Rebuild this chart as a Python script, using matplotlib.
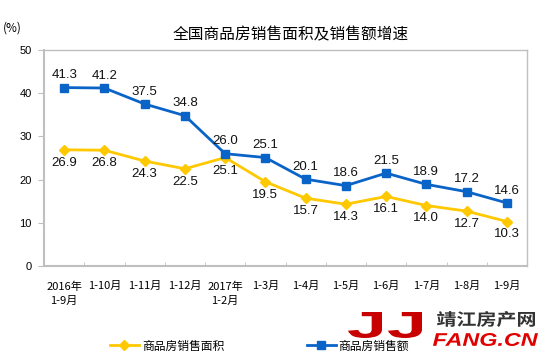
import matplotlib
matplotlib.use("Agg")
import matplotlib.pyplot as plt
from matplotlib.textpath import TextPath
from matplotlib.patches import PathPatch
from matplotlib.font_manager import FontProperties
from matplotlib.transforms import Affine2D
import numpy as np

plt.rcParams['font.family'] = ['Liberation Sans', 'Noto Sans CJK SC', 'DejaVu Sans']

categories = ["2016年\n1-9月", "1-10月", "1-11月", "1-12月", "2017年\n1-2月", "1-3月",
              "1-4月", "1-5月", "1-6月", "1-7月", "1-8月", "1-9月"]
area = [26.9, 26.8, 24.3, 22.5, 25.1, 19.5, 15.7, 14.3, 16.1, 14.0, 12.7, 10.3]
sales = [41.3, 41.2, 37.5, 34.8, 26.0, 25.1, 20.1, 18.6, 21.5, 18.9, 17.2, 14.6]
yticks = [0, 10, 20, 30, 40, 50]
title = "全国商品房销售面积及销售额增速"
legend_labels = ["商品房销售面积", "商品房销售额"]

yellow = "#FFC800"
blue = "#0A64C8"
gray = "#BFBFBF"
cjk = ['Noto Sans CJK SC', 'DejaVu Sans']

W, H = 558, 359
fig = plt.figure(figsize=(W / 100, H / 100), dpi=100)
ax = fig.add_axes([44 / W, 1 - 266 / H, (527 - 44) / W, (266 - 50) / H])
x = np.arange(len(categories))

l1, = ax.plot(x, area, color=yellow, lw=2, marker="D", ms=5.5, label=legend_labels[0], zorder=3)
l2, = ax.plot(x, sales, color=blue, lw=2, marker="s", ms=5.5, label=legend_labels[1], zorder=3)

for xi, v in zip(x, area):
    ax.annotate(f"{v:.1f}", (xi, v), xytext=(0, -5), textcoords="offset points",
                ha="center", va="top", fontsize=9.5, color="#111111")
for xi, v in zip(x, sales):
    ax.annotate(f"{v:.1f}", (xi, v), xytext=(0, 4.5), textcoords="offset points",
                ha="center", va="bottom", fontsize=9.5, color="#111111")

ax.set_xlim(-0.5, len(categories) - 0.5)
ax.set_ylim(0, 50)
ax.set_yticks(yticks)
ax.set_yticklabels([str(t) for t in yticks], fontsize=8)
ax.set_xticks(x)
ax.set_xticklabels(categories, fontsize=8, family=cjk, linespacing=1.5)
ax.tick_params(axis='x', length=0, pad=11)
ax.set_xticks(np.arange(-0.5, len(categories), 1), minor=True)
ax.tick_params(axis='x', which='minor', direction='in', length=3, color=gray)
ax.tick_params(axis='y', direction='out', length=4, color=gray, pad=5)
for sp in ax.spines.values():
    sp.set_color(gray)
    sp.set_linewidth(1)
ax.spines['left'].set_linewidth(1.5)
ax.spines['bottom'].set_linewidth(1.5)

fig.text(290.5 / W, 1 - 35 / H, title, ha="center", va="center", fontsize=11.3, family=cjk)
fig.text(3 / W, 1 - 28 / H, "(%)", ha="left", va="center", fontsize=8.5, family=cjk)

fig.legend(handles=[l1, l2], loc="center left", bbox_to_anchor=(110 / W, 1 - 346 / H), ncol=2,
           frameon=False, handlelength=2.45, handletextpad=0.25, columnspacing=7.0,
           borderpad=0, borderaxespad=0,
           prop={'family': cjk, 'size': 8.5})


# watermark: text shapes fitted into pixel boxes (top-left origin)
def box_text(s, x0, x1, y0, y1, color, prop):
    tp = TextPath((0, 0), s, size=1, prop=prop)
    ext = tp.get_extents()
    sx = (x1 - x0) / ext.width / 100
    sy = (y1 - y0) / ext.height / 100
    tr = (Affine2D().translate(-ext.x0, -ext.y0).scale(sx, sy)
          .translate(x0 / 100, (H - y1) / 100) + fig.dpi_scale_trans)
    fig.patches.append(PathPatch(tp, transform=tr, facecolor=color, edgecolor="none",
                                 zorder=10, figure=fig))


box_text("JJ", 348, 422, 312, 338, "#C80000",
         FontProperties(family="Liberation Sans", weight="bold"))
box_text("靖江房产网", 437, 535, 311, 327, "#333333",
         FontProperties(family="Noto Sans CJK SC", weight="bold"))
box_text("FANG.CN", 433, 538, 333, 346, "#E00000",
         FontProperties(family="Liberation Sans", weight="bold", style="italic"))

fig.savefig("out.png", dpi=100)
